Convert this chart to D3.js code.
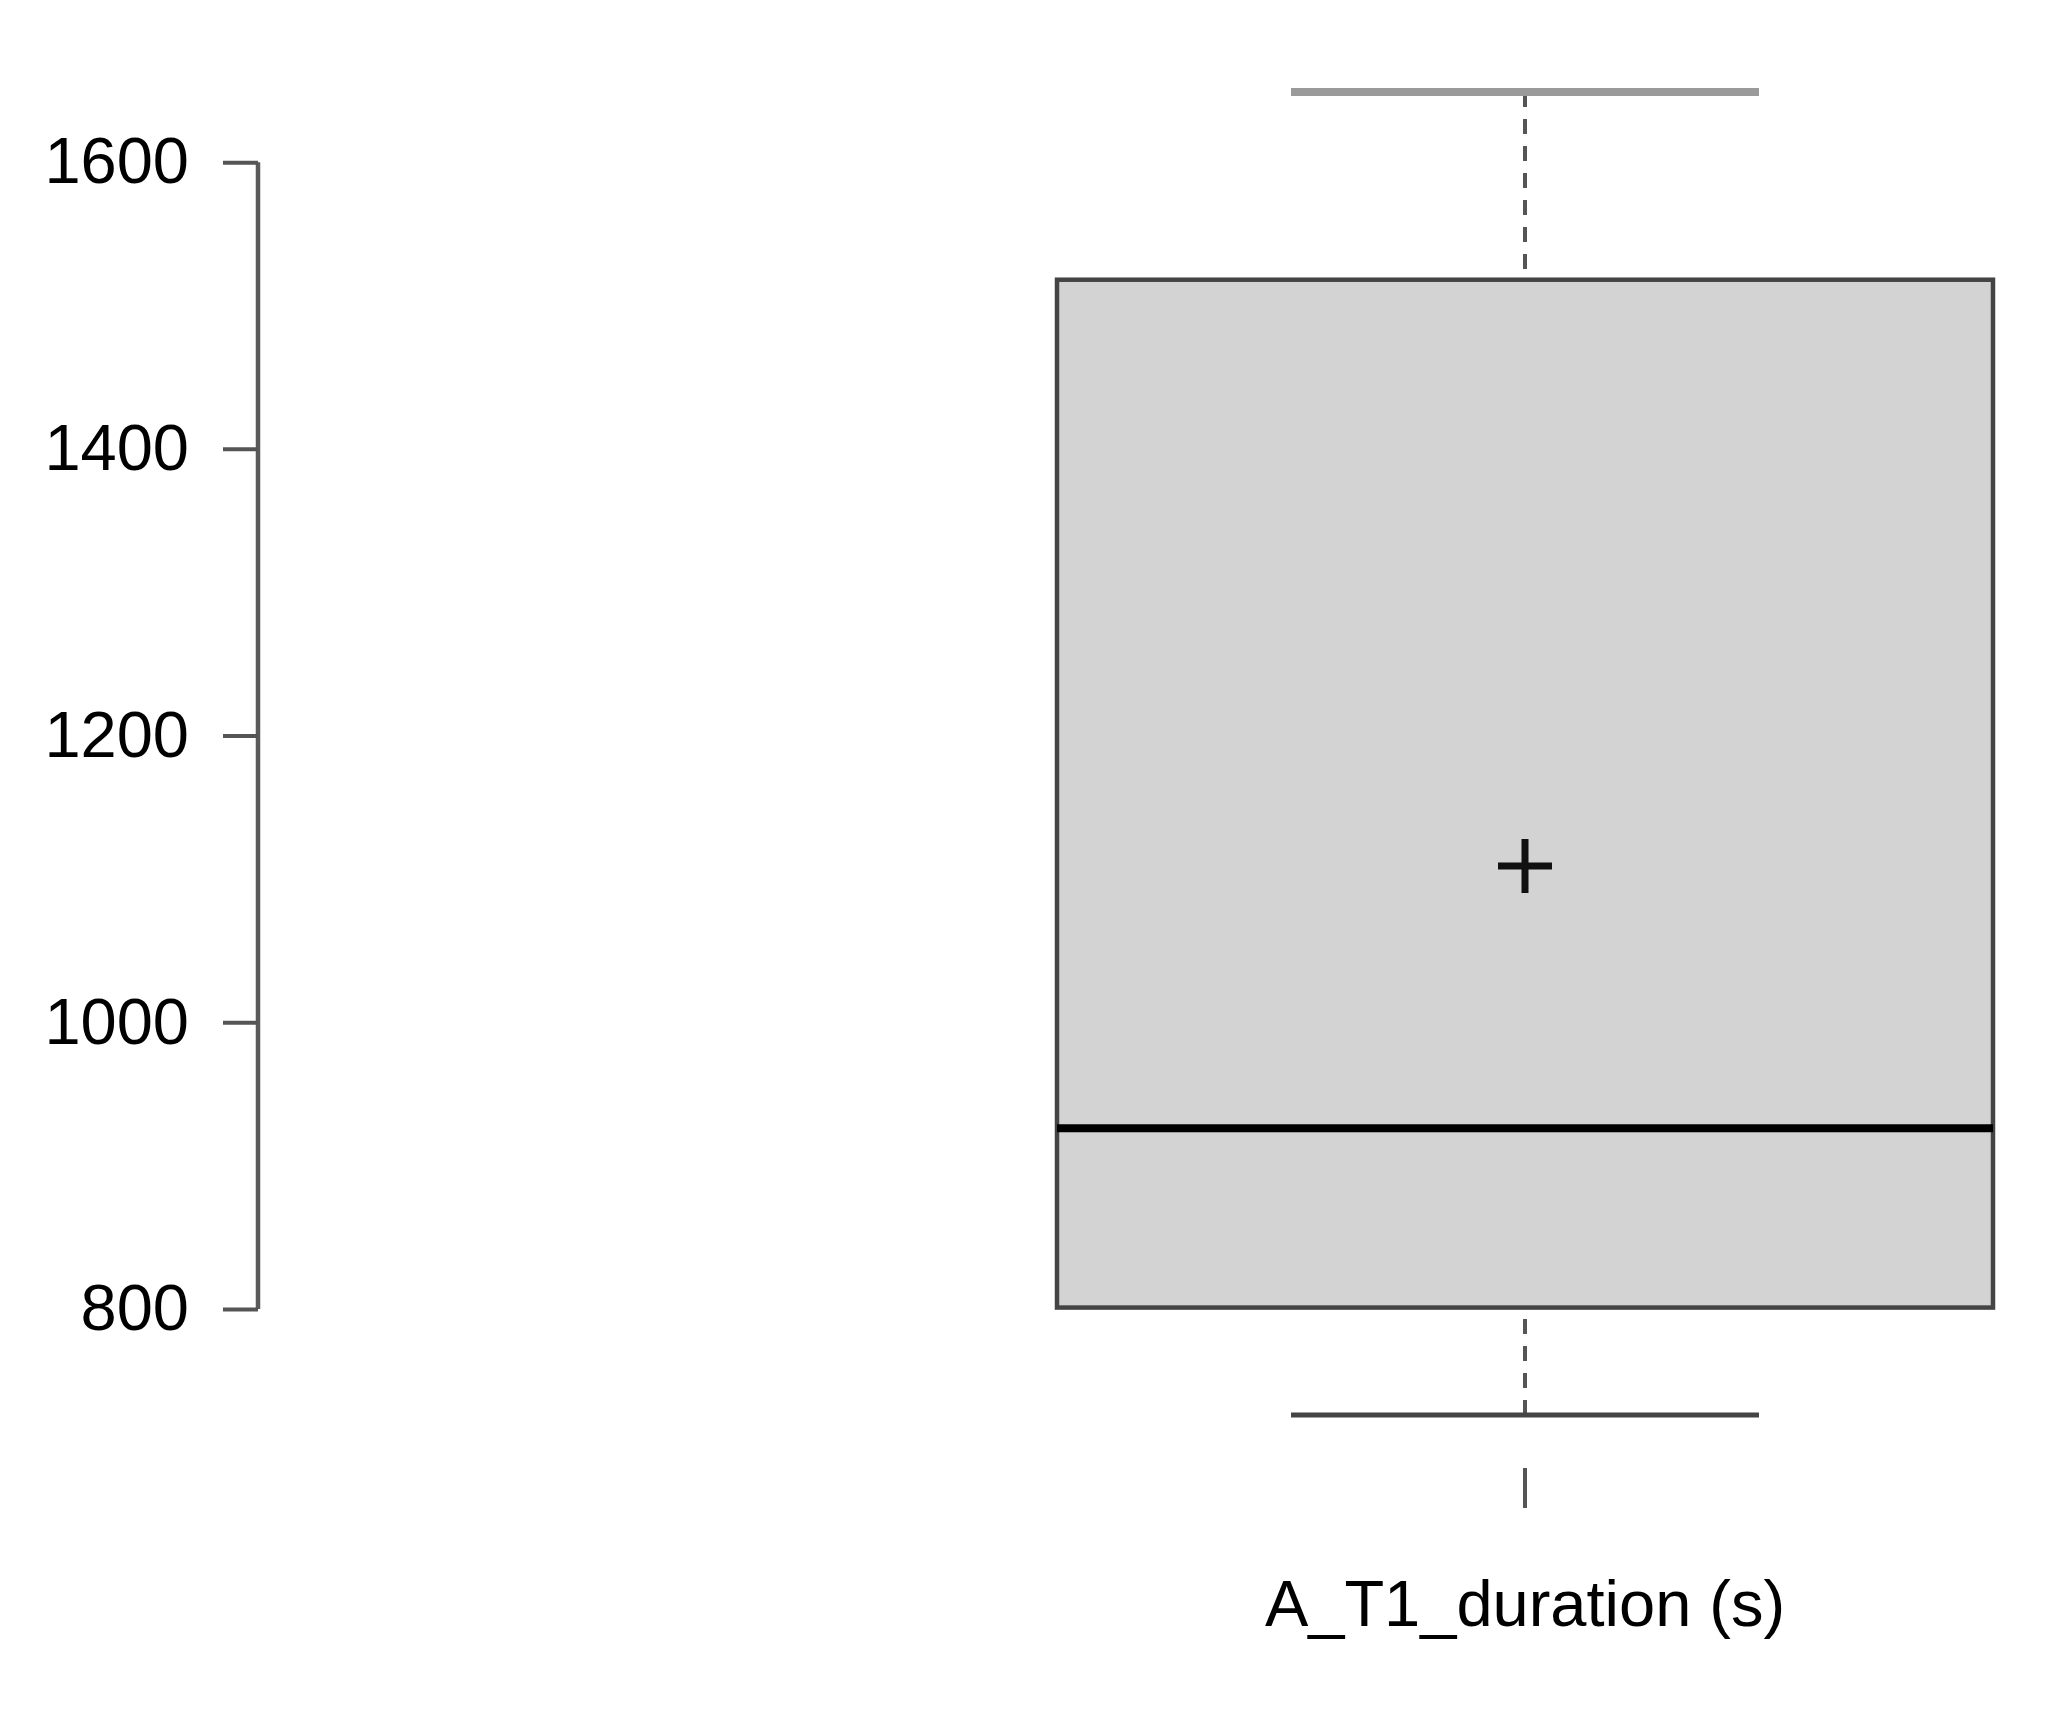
<!DOCTYPE html>
<meta charset="utf-8">
<script src="https://cdn.jsdelivr.net/npm/d3@7"></script>
<style>
  body { margin: 0; background: #fff; }
  #chart text { font-family: "Liberation Sans", Arial, sans-serif; fill: #000; }
</style>
<div id="chart"></div>
<script>
// data
var categories = ["A_T1_duration (s)"];
var whiskerLow = [726];
var q1 = [801];
var median = [926];
var q3 = [1518];
var whiskerHigh = [1649];
var means = [1109];
var yTicks = [800, 1000, 1200, 1400, 1600];

var width = 2051, height = 1710;
var plotTop = 39, plotBottom = 1468, axisX = 258;

var svg = d3.select("#chart").append("svg")
    .attr("width", width)
    .attr("height", height);

// R style range: data extent plus 4%
var lo = d3.min(whiskerLow), hi = d3.max(whiskerHigh);
var ext = (hi - lo) * 0.04;
var y = d3.scaleLinear()
    .domain([lo - ext, hi + ext])
    .range([plotBottom, plotTop]);

var x = d3.scaleBand()
    .domain(categories)
    .range([1057, 1993])
    .padding(0);

// y axis
svg.append("g")
    .attr("transform", "translate(" + axisX + ",0)")
    .call(d3.axisLeft(y).tickValues(yTicks).tickSize(35).tickPadding(34).tickFormat(d3.format("d")))
    .call(function(g) {
      g.select(".domain")
        .attr("d", "M0," + y(yTicks[0]) + "V" + y(yTicks[yTicks.length - 1]))
        .attr("stroke", "#5a5a5a").attr("stroke-width", 4.5);
      g.selectAll(".tick line").attr("stroke", "#555").attr("stroke-width", 4);
      g.selectAll(".tick text").attr("font-size", "65px");
    });

// x axis (tick only, no line)
svg.append("g")
    .attr("transform", "translate(0," + plotBottom + ")")
    .call(d3.axisBottom(x).tickSize(40).tickPadding(72))
    .call(function(g) {
      g.select(".domain").remove();
      g.selectAll(".tick line").attr("stroke", "#555").attr("stroke-width", 4);
      g.selectAll(".tick text").attr("font-size", "65px");
    });

var boxes = svg.selectAll(".box")
    .data(categories.map(function(c, i) {
      return { cat: c, lo: whiskerLow[i], q1: q1[i], med: median[i], q3: q3[i], hi: whiskerHigh[i], mean: means[i] };
    }))
    .enter().append("g").attr("class", "box");

var cx = function(d) { return x(d.cat) + x.bandwidth() / 2; };
var capHalf = x.bandwidth() / 4;

// whiskers (drawn from the caps toward the box)
boxes.append("line")
    .attr("x1", cx).attr("x2", cx)
    .attr("y1", function(d) { return y(d.hi); })
    .attr("y2", function(d) { return y(d.q3); })
    .attr("stroke", "#555").attr("stroke-width", 4).attr("stroke-dasharray", "15,12");
boxes.append("line")
    .attr("x1", cx).attr("x2", cx)
    .attr("y1", function(d) { return y(d.lo); })
    .attr("y2", function(d) { return y(d.q1); })
    .attr("stroke", "#555").attr("stroke-width", 4).attr("stroke-dasharray", "15,12");

// caps
boxes.append("line")
    .attr("x1", function(d) { return cx(d) - capHalf; })
    .attr("x2", function(d) { return cx(d) + capHalf; })
    .attr("y1", function(d) { return y(d.hi); })
    .attr("y2", function(d) { return y(d.hi); })
    .attr("stroke", "#9a9a9a").attr("stroke-width", 8);
boxes.append("line")
    .attr("x1", function(d) { return cx(d) - capHalf; })
    .attr("x2", function(d) { return cx(d) + capHalf; })
    .attr("y1", function(d) { return y(d.lo); })
    .attr("y2", function(d) { return y(d.lo); })
    .attr("stroke", "#444").attr("stroke-width", 5);

// box
boxes.append("rect")
    .attr("x", function(d) { return x(d.cat); })
    .attr("width", x.bandwidth())
    .attr("y", function(d) { return y(d.q3); })
    .attr("height", function(d) { return y(d.q1) - y(d.q3); })
    .attr("fill", "#d3d3d3")
    .attr("stroke", "#444").attr("stroke-width", 4.5);

// median
boxes.append("line")
    .attr("x1", function(d) { return x(d.cat); })
    .attr("x2", function(d) { return x(d.cat) + x.bandwidth(); })
    .attr("y1", function(d) { return y(d.med); })
    .attr("y2", function(d) { return y(d.med); })
    .attr("stroke", "#000").attr("stroke-width", 8);

// mean marker
boxes.append("path")
    .attr("d", function(d) {
      var px = cx(d), py = y(d.mean);
      return "M" + (px - 27) + "," + py + "H" + (px + 27) + "M" + px + "," + (py - 27) + "V" + (py + 27);
    })
    .attr("stroke", "#111").attr("stroke-width", 7).attr("fill", "none");
</script>
